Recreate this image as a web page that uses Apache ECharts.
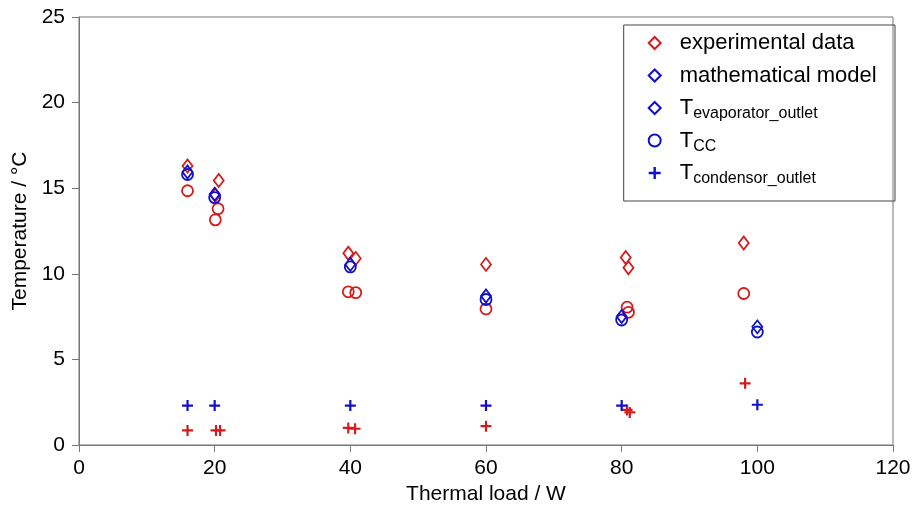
<!DOCTYPE html>
<html>
<head>
<meta charset="utf-8">
<title>Temperature vs thermal load</title>
<script src="https://cdn.jsdelivr.net/npm/echarts@6/dist/echarts.min.js"></script>
<style>
    html, body { margin: 0; padding: 0; background: #fff; }
    #chart { width: 914px; height: 508px; }
</style>
</head>
<body>
<div id="chart"></div>
<script>
// thermal load (W) and temperature (°C)
var expEvapLoad = [16, 20.6, 20.1, 39.7, 40.8, 60, 80.6, 81, 98];
var expEvapTemp = [16.3, 15.45, 14.6, 11.2, 10.9, 10.55, 10.95, 10.35, 11.8];
var expCcLoad = [16, 20.5, 20.1, 39.7, 40.8, 60, 80.8, 81, 98];
var expCcTemp = [14.85, 13.8, 13.15, 8.95, 8.9, 7.95, 8.05, 7.75, 8.85];
var expCondLoad = [16, 20.2, 20.8, 39.7, 40.7, 60, 80.8, 81.2, 98.2];
var expCondTemp = [0.85, 0.85, 0.85, 1.0, 0.95, 1.1, 2.05, 1.9, 3.6];

var modelLoad = [16, 20, 40, 60, 80, 100];
var modelEvapTemp = [15.95, 14.65, 10.55, 8.7, 7.5, 6.9];
var modelCcTemp = [15.8, 14.45, 10.4, 8.5, 7.3, 6.6];
var modelCondTemp = [2.3, 2.3, 2.3, 2.3, 2.3, 2.35];

var xTicks = [0, 20, 40, 60, 80, 100, 120];
var yTicks = [0, 5, 10, 15, 20, 25];

var red = '#d41c1c';
var blue = '#1010cc';
var plusPath = 'path://M4,0H6V4H10V6H6V10H4V6H0V4H4Z';
var font = '"Liberation Sans", Arial, sans-serif';

function zip(xs, ys) {
    return xs.map(function (x, i) { return [x, ys[i]]; });
}

function marker(name, data, symbol, color, hollow) {
    var size = symbol === 'diamond' ? [10, 13] : 11;
    return {
        name: name,
        type: 'scatter',
        symbol: symbol,
        symbolSize: size,
        itemStyle: hollow ? {
            color: 'rgba(255,255,255,0)',
            borderColor: color,
            borderWidth: 1.8,
            opacity: 1
        } : { color: color, opacity: 1 },
        emphasis: { disabled: true },
        data: data
    };
}

// every entry gets a (maybe blank) subscript so all rows are the same height
var legendNames = {
    'experimental data': '{n|experimental data}{s| }',
    'mathematical model': '{n|mathematical model}{s| }',
    'T_evaporator_outlet': '{n|T}{s|evaporator_outlet}',
    'T_CC': '{n|T}{s|CC}',
    'T_condensor_outlet': '{n|T}{s|condensor_outlet}'
};

var chart = echarts.init(document.getElementById('chart'));
chart.setOption({
    animation: false,
    textStyle: { fontFamily: font },
    grid: {
        left: 79,
        right: 21,
        top: 17,
        bottom: 63,
        outerBoundsMode: 'none',
        show: true,
        borderColor: '#777',
        borderWidth: 1
    },
    legend: {
        orient: 'vertical',
        right: 19,
        top: 25,
        padding: [4, 14, 14, 24],
        itemWidth: 12,
        itemHeight: 12,
        itemGap: 4.5,
        borderColor: '#444',
        borderWidth: 1,
        data: ['experimental data', 'mathematical model', 'T_evaporator_outlet', 'T_CC', 'T_condensor_outlet'],
        formatter: function (name) {
            return legendNames[name];
        },
        textStyle: {
            rich: {
                n: { fontSize: 22, lineHeight: 28, color: '#000', fontFamily: font, padding: [0, 0, 0, 14] },
                s: { fontSize: 16, lineHeight: 16, color: '#000', fontFamily: font, padding: [12, 0, 0, 0] }
            }
        }
    },
    xAxis: {
        type: 'value',
        min: 0,
        max: 120,
        interval: 20,
        name: 'Thermal load / W',
        nameLocation: 'middle',
        nameGap: 38,
        nameTextStyle: { fontSize: 21, color: '#000', fontFamily: font },
        axisLine: { lineStyle: { color: '#777' } },
        axisTick: { show: true, length: 7, lineStyle: { color: '#777' } },
        axisLabel: {
            fontSize: 21, color: '#000', margin: 13,
            formatter: function (v) { return xTicks.indexOf(v) >= 0 ? String(v) : ''; }
        },
        splitLine: { show: false }
    },
    yAxis: {
        type: 'value',
        min: 0,
        max: 25,
        interval: 5,
        name: 'Temperature / °C',
        nameLocation: 'middle',
        nameRotate: 90,
        nameGap: 43,
        nameTextStyle: { fontSize: 21, color: '#000', fontFamily: font },
        axisLine: { show: true, lineStyle: { color: '#777' } },
        axisTick: { show: true, length: 7, lineStyle: { color: '#777' } },
        axisLabel: {
            fontSize: 21, color: '#000', margin: 14,
            formatter: function (v) { return yTicks.indexOf(v) >= 0 ? String(v) : ''; }
        },
        splitLine: { show: false }
    },
    series: [
        marker('exp CC', zip(expCcLoad, expCcTemp), 'circle', red, true),
        marker('experimental data', zip(expEvapLoad, expEvapTemp), 'diamond', red, true),
        marker('exp condensor', zip(expCondLoad, expCondTemp), plusPath, red, false),
        marker('mathematical model', [], 'diamond', blue, true),
        marker('T_evaporator_outlet', zip(modelLoad, modelEvapTemp), 'diamond', blue, true),
        marker('T_CC', zip(modelLoad, modelCcTemp), 'circle', blue, true),
        marker('T_condensor_outlet', zip(modelLoad, modelCondTemp), plusPath, blue, false)
    ]
});

window.onresize = function () {
    chart.resize();
};
</script>
</body>
</html>
